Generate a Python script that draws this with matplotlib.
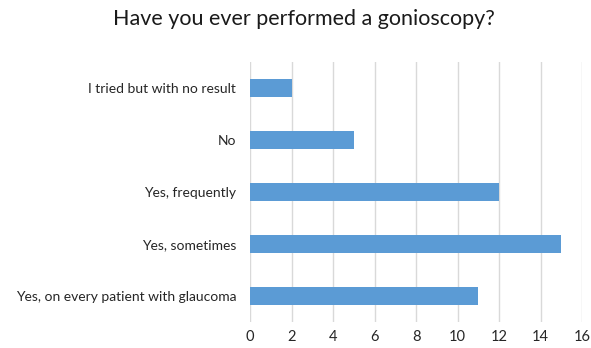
import matplotlib
matplotlib.use('Agg')
import matplotlib.pyplot as plt

# survey answers, top to bottom as in the chart
answers = ['I tried but with no result', 'No', 'Yes, frequently',
           'Yes, sometimes', 'Yes, on every patient with glaucoma']
counts = [2, 5, 12, 15, 11]
xticks = [0, 2, 4, 6, 8, 10, 12, 14, 16]

plt.rcParams['font.family'] = ['Lato', 'DejaVu Sans']

fig = plt.figure(figsize=(5.91, 3.48), dpi=100)
ax = fig.add_axes([0.423, 0.075, 0.562, 0.747])

ypos = list(range(len(answers)))
ax.barh(ypos, counts, height=0.35, color='#5B9BD5', zorder=3)
ax.set_yticks(ypos)
ax.set_yticklabels(answers, fontsize=10, color='#262626')
ax.set_ylim(len(answers) - 0.5, -0.5)

ax.set_xlim(0, 16)
ax.set_xticks(xticks)
ax.set_xticklabels([str(t) for t in xticks], fontsize=10.5, color='#262626')
ax.grid(axis='x', color='#D9D9D9', linewidth=1, zorder=0)
ax.tick_params(length=0, pad=10)
ax.tick_params(axis='x', pad=6)
for s in ax.spines.values():
    s.set_visible(False)

fig.suptitle('Have you ever performed a gonioscopy?', fontsize=15.5,
             x=0.514, y=0.975, color='#1a1a1a')

fig.savefig('out.png', dpi=100)
